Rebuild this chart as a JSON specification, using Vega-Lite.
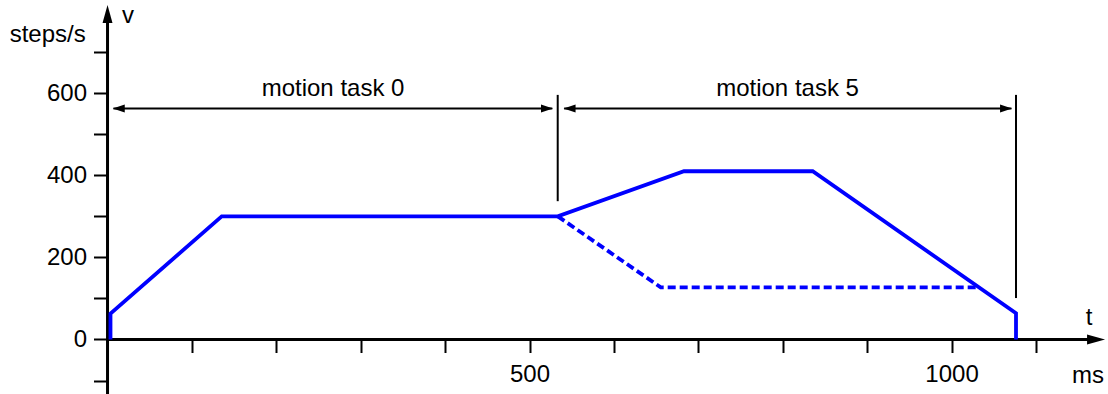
{
  "$schema": "https://vega.github.io/schema/vega-lite/v6.json",
  "width": 1108,
  "height": 394,
  "padding": 0,
  "autosize": {"type": "none"},
  "background": "white",
  "config": {"view": {"stroke": null}, "font": "Liberation Sans"},
  "datasets": {
    "profile": [
      {"i": 0, "t": 3.5, "v": 0},
      {"i": 1, "t": 3.5, "v": 63},
      {"i": 2, "t": 135.3, "v": 300},
      {"i": 3, "t": 533.5, "v": 300},
      {"i": 4, "t": 683, "v": 410},
      {"i": 5, "t": 835.5, "v": 410},
      {"i": 6, "t": 1076.4, "v": 64},
      {"i": 7, "t": 1076.4, "v": 0}
    ],
    "dashed": [
      {"i": 0, "t": 533.5, "v": 300},
      {"i": 1, "t": 655.5, "v": 127},
      {"i": 2, "t": 1031, "v": 127}
    ],
    "axislines": [
      {"t": 0, "v": -135, "t2": 0, "v2": 790},
      {"t": 0, "v": 0, "t2": 1170, "v2": 0}
    ],
    "markers": [
      {"t": 533.4, "v": 337, "t2": 533.4, "v2": 596},
      {"t": 1076.4, "v": 101, "t2": 1076.4, "v2": 596}
    ],
    "dims": [
      {"t": 7, "v": 563, "t2": 527, "v2": 563},
      {"t": 541, "v": 563, "t2": 1071, "v2": 563}
    ],
    "leftheads": [{"t": 6.2, "v": 563}, {"t": 540.3, "v": 563}],
    "rightheads": [{"t": 527.8, "v": 563}, {"t": 1071.7, "v": 563}],
    "yarrow": [{"t": 0, "v": 815}],
    "xarrow": [{"t": 1181.9, "v": 0}],
    "texts": [
      {"t": 267.2, "v": 594, "label": "motion task 0"},
      {"t": 805.7, "v": 594, "label": "motion task 5"},
      {"t": -70.9, "v": 725.6, "label": "steps/s"},
      {"t": 24.3, "v": 771, "label": "v"},
      {"t": 1162.9, "v": 35.3, "label": "t"},
      {"t": 1161.7, "v": -107, "label": "ms"}
    ]
  },
  "encoding": {
    "x": {
      "field": "t",
      "type": "quantitative",
      "scale": {"domain": [-127.4, 1185.4], "nice": false, "zero": false},
      "axis": {
        "values": [100, 200, 300, 400, 500, 600, 700, 800, 900, 1000, 1100],
        "labelExpr": "datum.value % 500 === 0 ? datum.label : ''",
        "format": "d",
        "domain": false,
        "grid": false,
        "tickSize": 13,
        "tickWidth": 2,
        "tickColor": "black",
        "labelFontSize": 24,
        "labelColor": "black",
        "labelFont": "Liberation Sans",
        "labelPadding": 10,
        "labelOverlap": false,
        "labelFlush": false,
        "title": null,
        "offset": -54.5
      }
    },
    "y": {
      "field": "v",
      "type": "quantitative",
      "scale": {"domain": [-132.8, 827.2], "nice": false, "zero": false},
      "axis": {
        "values": [-100, 0, 100, 200, 300, 400, 500, 600, 700],
        "labelExpr": "(datum.value % 200 === 0 && datum.value >= 0) ? datum.label : ''",
        "format": "d",
        "domain": false,
        "grid": false,
        "tickSize": 14,
        "tickWidth": 2,
        "tickColor": "black",
        "labelFontSize": 24,
        "labelColor": "black",
        "labelFont": "Liberation Sans",
        "labelPadding": 7,
        "labelOverlap": false,
        "labelFlush": false,
        "title": null,
        "offset": -107.5
      }
    }
  },
  "layer": [
    {
      "data": {"name": "axislines"},
      "mark": {"type": "rule", "color": "black", "strokeWidth": 3},
      "encoding": {"x2": {"field": "t2"}, "y2": {"field": "v2"}}
    },
    {
      "data": {"name": "markers"},
      "mark": {"type": "rule", "color": "black", "strokeWidth": 2},
      "encoding": {"x2": {"field": "t2"}, "y2": {"field": "v2"}}
    },
    {
      "data": {"name": "dims"},
      "mark": {"type": "rule", "color": "black", "strokeWidth": 2},
      "encoding": {"x2": {"field": "t2"}, "y2": {"field": "v2"}}
    },
    {
      "data": {"name": "leftheads"},
      "mark": {"type": "point", "shape": "M0,0L2,-0.67L2,0.67Z", "size": 144, "filled": true, "color": "black", "opacity": 1, "strokeWidth": 0}
    },
    {
      "data": {"name": "rightheads"},
      "mark": {"type": "point", "shape": "M0,0L-2,-0.67L-2,0.67Z", "size": 144, "filled": true, "color": "black", "opacity": 1, "strokeWidth": 0}
    },
    {
      "data": {"name": "yarrow"},
      "mark": {"type": "point", "shape": "M0,0L0.83,3L-0.83,3Z", "size": 144, "filled": true, "color": "black", "opacity": 1, "strokeWidth": 0}
    },
    {
      "data": {"name": "xarrow"},
      "mark": {"type": "point", "shape": "M0,0L-3,-0.83L-3,0.83Z", "size": 144, "filled": true, "color": "black", "opacity": 1, "strokeWidth": 0}
    },
    {
      "data": {"name": "dashed"},
      "mark": {"type": "line", "color": "#0000ff", "strokeWidth": 3.8, "strokeDash": [8, 4], "strokeJoin": "miter", "strokeCap": "butt"},
      "encoding": {"order": {"field": "i", "type": "quantitative"}}
    },
    {
      "data": {"name": "profile"},
      "mark": {"type": "line", "color": "#0000ff", "strokeWidth": 3.8, "strokeJoin": "miter", "strokeCap": "butt"},
      "encoding": {"order": {"field": "i", "type": "quantitative"}}
    },
    {
      "data": {"name": "texts"},
      "mark": {"type": "text", "align": "center", "baseline": "alphabetic", "fontSize": 24, "font": "Liberation Sans", "color": "black"},
      "encoding": {"text": {"field": "label"}}
    }
  ]
}
